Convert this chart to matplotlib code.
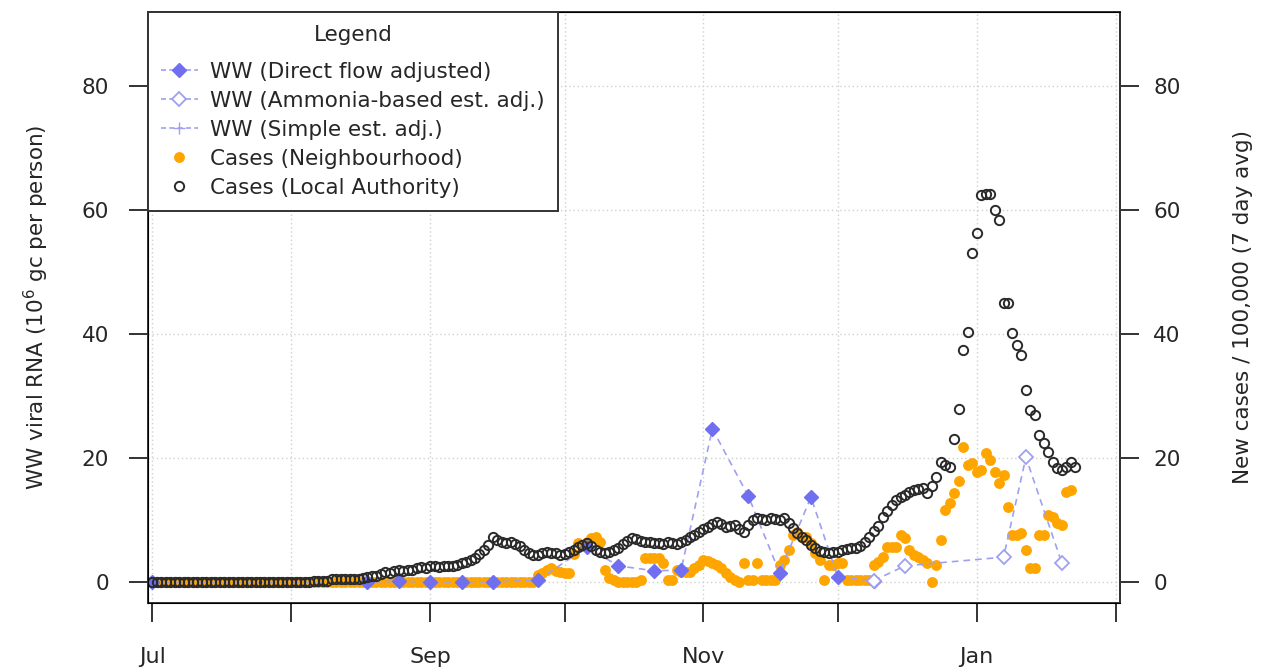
import datetime as dt

from matplotlib import pyplot as plt
from matplotlib.lines import Line2D
import numpy as np

plt.rcParams['font.family'] = ['DejaVu Sans']

START = dt.date(2021, 7, 1)

# WW (Direct flow adjusted): days since 1 Jul, value
ww_direct_days = [0, 48, 55, 62, 69, 76, 86, 97, 104, 112, 118, 125, 133, 140, 147, 153, 161]
ww_direct_vals = [0.0, 0.0, 0.1, 0.0, 0.0, 0.0, 0.3, 5.6, 2.6, 1.8, 1.9, 24.7, 13.9, 1.5, 13.7, 0.8, 0.2]

# WW (Ammonia-based est. adj.)
ww_ammonia_days = [161, 168, 190, 195, 203]
ww_ammonia_vals = [0.2, 2.6, 4.0, 20.1, 3.1]

# WW (Simple est. adj.) - nothing visible in the chart
ww_simple_days = []
ww_simple_vals = []

# Cases (Local Authority), daily from 1 Jul
cases_la = (
    [0.0] * 36 + [0.1] * 4 + [0.5] * 7 +
    [0.6, 0.8, 0.9, 1.0, 1.3, 1.6, 1.5, 1.8, 1.9, 1.8, 2.0, 2.0, 2.3, 2.4, 2.3, 2.5, 2.6,
     2.4, 2.5, 2.6, 2.5, 2.7, 3.0, 3.2, 3.6, 3.9, 4.5, 5.2, 6.0, 7.3, 6.8, 6.5, 6.3, 6.5,
     6.2, 5.8, 5.2, 4.6, 4.3, 4.4, 4.7, 4.8, 4.6, 4.7, 4.4, 4.5, 4.8, 5.2, 5.6, 6.0, 6.3,
     5.8, 5.2, 4.9, 4.7, 4.8, 5.2, 5.5, 6.2, 6.6, 7.1, 7.0, 6.6, 6.5, 6.4, 6.3, 6.3, 6.2,
     6.4, 6.3, 6.1, 6.5, 6.8, 7.2, 7.5, 8.1, 8.5, 8.8, 9.3, 9.7, 9.3, 8.9, 9.0, 9.2, 8.6,
     8.1, 9.2, 10.0, 10.3, 10.2, 10.0, 10.3, 10.1, 10.0, 10.3, 9.5, 8.7, 7.9, 7.2, 6.8,
     6.0, 5.5, 5.0, 4.8, 4.7, 4.8, 4.9, 5.2, 5.3, 5.4, 5.5, 5.8, 6.5, 7.3, 8.3, 9.0, 10.5,
     11.5, 12.5, 13.2, 13.7, 14.1, 14.5, 14.9, 15.0, 15.2, 14.4, 15.5, 16.9, 19.4, 18.8,
     18.5, 23.1, 27.9, 37.4, 40.3, 53.1, 56.3, 62.4, 62.7, 62.7, 60.0, 58.4, 45.0, 45.0,
     40.2, 38.2, 36.6, 31.0, 27.7, 26.9, 23.7, 22.4, 21.0, 19.4, 18.4, 18.1, 18.5, 19.4,
     18.5]
)

# Cases (Neighbourhood), daily from 1 Jul
cases_nb = (
    [0.0] * 86 +
    [1.1, 1.5, 2.0, 2.3, 1.8, 1.6, 1.5, 1.5, 4.5, 6.3, 5.8, 6.5, 7.1, 7.3, 6.5, 1.9, 0.6,
     0.3, 0.0, 0.0, 0.0, 0.0, 0.0, 0.3, 3.9, 3.9, 3.9, 3.9, 3.1, 0.3, 0.3, 1.9, 1.6, 1.6,
     1.6, 2.3, 2.7, 3.5, 3.3, 3.1, 2.7, 2.3, 1.5, 0.8, 0.3, 0.0, 3.1, 0.3, 0.3, 3.1, 0.3,
     0.3, 0.3, 0.3, 2.7, 3.5, 5.2, 7.6, 8.1, 7.3, 7.3, 6.3, 4.7, 3.5, 0.3, 2.7, 2.7, 3.1,
     3.1, 0.3, 0.3, 0.3, 0.3, 0.3, 0.3, 2.7, 3.2, 4.0, 5.6, 5.6, 5.6, 7.6, 7.1, 5.2, 4.4,
     4.0, 3.6, 3.1, 0.0, 2.7, 6.8, 11.6, 12.7, 14.4, 16.3, 21.8, 18.9, 19.2, 17.7, 18.1,
     20.8, 19.7, 17.7, 16.0, 17.3, 12.1, 7.6, 7.6, 7.9, 5.2, 2.3, 2.3, 7.6, 7.6, 10.8,
     10.5, 9.5, 9.2, 14.5, 14.8]
)


def to_dates(days):
    return [START + dt.timedelta(days=int(d)) for d in days]


blue = '#6f6ff0'
light_blue = '#a0a0f2'
orange = '#ffa500'
dark = '#2a2a2a'
txt = '#262626'

fig = plt.figure(figsize=(12.66, 6.68), dpi=100)
ax = fig.add_axes([148 / 1266, 1 - 603 / 668, (1120 - 148) / 1266, (603 - 12) / 668])

la_dates = to_dates(range(len(cases_la)))
nb_dates = to_dates(range(len(cases_nb)))

ax.plot(nb_dates, cases_nb, ls='none', marker='o', ms=6.8, mfc=orange, mec=orange, zorder=2)
ax.plot(to_dates(ww_direct_days), ww_direct_vals, ls=(0, (4, 3)), lw=1.2, color=light_blue,
        marker='D', ms=7.5, mfc=blue, mec=blue, zorder=3)
ax.plot(to_dates(ww_ammonia_days), ww_ammonia_vals, ls=(0, (4, 3)), lw=1.2, color=light_blue,
        marker='D', ms=7.5, mfc='white', mec=light_blue, mew=1.3, zorder=3)
ax.plot(to_dates(ww_simple_days), ww_simple_vals, ls=(0, (4, 3)), lw=1.2, color=light_blue,
        marker='+', ms=8, zorder=3)
ax.plot(la_dates, cases_la, ls='none', marker='o', ms=6.7, mfc='none', mec=dark, mew=1.4, zorder=4)

ylim = (-3.4, 92)
ax.set_ylim(*ylim)
ax.set_xlim(START - dt.timedelta(days=1.6), dt.date(2022, 2, 2))

month_ticks = [dt.date(2021, m, 1) for m in range(7, 13)] + [dt.date(2022, 1, 1), dt.date(2022, 2, 1)]
month_labels = ['Jul', '', 'Sep', '', 'Nov', '', 'Jan', '']
ax.set_xticks(month_ticks)
ax.set_xticklabels(month_labels)
ax.set_yticks([0, 20, 40, 60, 80])

ax.grid(True, color='#d0d0d0', ls=(0, (1, 2)), lw=1.0)
ax.set_axisbelow(True)

for sp in ax.spines.values():
    sp.set_linewidth(1.4)
    sp.set_color('#333333')

ax.tick_params(axis='both', length=14, width=1.4, color='#333333', labelsize=15.5,
               labelcolor=txt)
ax.tick_params(axis='x', pad=18, labelsize=16)
ax.tick_params(axis='y', pad=14)
ax.set_ylabel('WW viral RNA (10$^6$ gc per person)', fontsize=15.5, color=txt, labelpad=22)

ax2 = ax.twinx()
ax2.set_ylim(*ylim)
ax2.set_yticks([0, 20, 40, 60, 80])
ax2.tick_params(axis='y', length=14, width=1.4, color='#333333', labelsize=15.5,
                labelcolor=txt, pad=10)
ax2.spines['right'].set_linewidth(1.4)
ax2.spines['right'].set_color('#333333')
ax2.set_ylabel('New cases / 100,000 (7 day avg)', fontsize=15.5, color=txt, labelpad=38)

handles = [
    Line2D([], [], ls=(0, (3, 2)), lw=1.2, color=light_blue, marker='D', ms=7, mfc=blue, mec=blue),
    Line2D([], [], ls=(0, (3, 2)), lw=1.2, color=light_blue, marker='D', ms=7, mfc='white',
           mec=light_blue, mew=1.3),
    Line2D([], [], ls=(0, (3, 2)), lw=1.2, color=light_blue, marker='+', ms=9, mec=light_blue),
    Line2D([], [], ls='none', marker='o', ms=6.8, mfc=orange, mec=orange),
    Line2D([], [], ls='none', marker='o', ms=6.7, mfc='none', mec=dark, mew=1.4),
]
labels = ['WW (Direct flow adjusted)', 'WW (Ammonia-based est. adj.)', 'WW (Simple est. adj.)',
          'Cases (Neighbourhood)', 'Cases (Local Authority)']
leg = ax2.legend(handles, labels, title='Legend', loc='upper left', borderaxespad=0,
                 fontsize=15.5, title_fontsize=15.5, fancybox=False, framealpha=1,
                 edgecolor='#333333', handlelength=1.7, handletextpad=0.6,
                 labelspacing=0.42, borderpad=0.6, numpoints=1)
# a bit more room under the title, like the original
if hasattr(leg, '_legend_box'):
    leg._legend_box.sep = 12
leg.get_frame().set_linewidth(1.4)
leg.get_title().set_color(txt)
for t in leg.get_texts():
    t.set_color(txt)

fig.savefig('out.png', dpi=100)
